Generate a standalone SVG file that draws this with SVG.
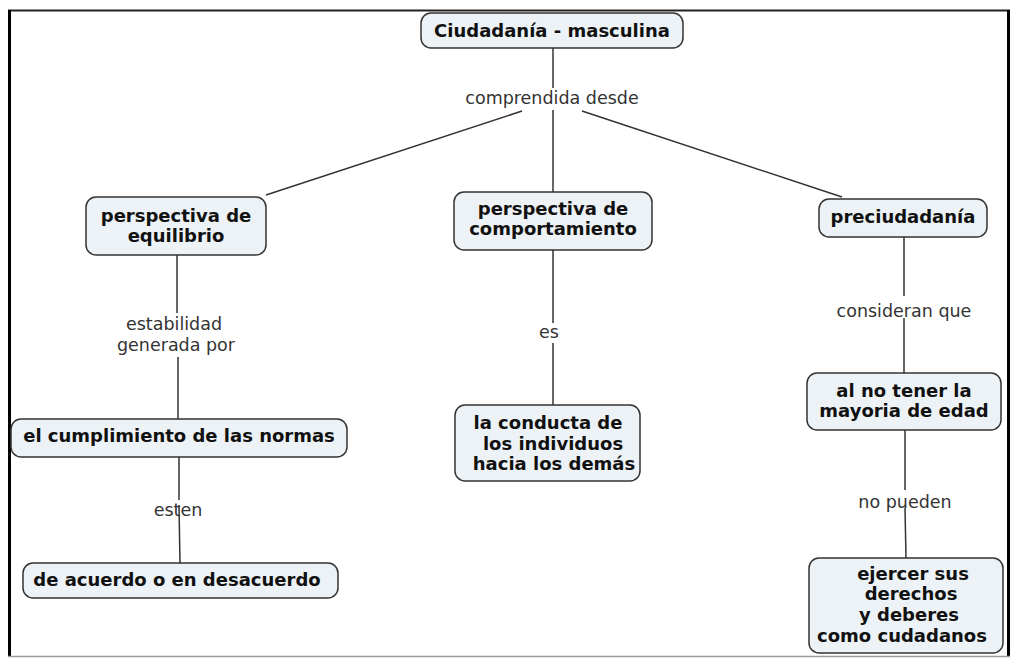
<svg xmlns="http://www.w3.org/2000/svg" width="1013" height="658" viewBox="0 0 1013 658">
<style>
.node{fill:#ecf2f5;stroke:#333;stroke-width:1.5}
.nt{font-family:"DejaVu Sans",Verdana,sans-serif;font-weight:bold;font-size:18px;fill:#111;text-anchor:middle}
.lt{font-family:"DejaVu Sans",Verdana,sans-serif;font-size:17.5px;fill:#333;text-anchor:middle}
.ln{stroke:#333;stroke-width:1.5;fill:none}
</style>
<rect x="0" y="0" width="1013" height="658" fill="#fff"/>
<g id="frame">
<line x1="8" y1="10.5" x2="1010" y2="10.5" stroke="#222" stroke-width="2"/>
<line x1="9.5" y1="10" x2="9.5" y2="657" stroke="#000" stroke-width="3"/>
<line x1="1008.5" y1="10" x2="1008.5" y2="657" stroke="#000" stroke-width="3"/>
<line x1="8" y1="656.5" x2="1010" y2="656.5" stroke="#999" stroke-width="1.5"/>
</g>
<g id="connectors">
<line class="ln" x1="553" y1="48" x2="553" y2="88"/>
<line class="ln" x1="553" y1="110" x2="553" y2="192"/>
<line class="ln" x1="522" y1="111" x2="266" y2="195"/>
<line class="ln" x1="582" y1="111" x2="842" y2="197"/>
<line class="ln" x1="177" y1="255" x2="177" y2="313"/>
<line class="ln" x1="178" y1="357" x2="178" y2="419"/>
<line class="ln" x1="553" y1="250" x2="553" y2="323"/>
<line class="ln" x1="553" y1="343" x2="553" y2="405"/>
<line class="ln" x1="904" y1="237" x2="904" y2="296"/>
<line class="ln" x1="904" y1="318" x2="904" y2="373"/>
<line class="ln" x1="179" y1="457" x2="179" y2="500"/>
<line class="ln" x1="179" y1="505" x2="180" y2="563"/>
<line class="ln" x1="905" y1="430" x2="905" y2="490"/>
<line class="ln" x1="905" y1="508" x2="906" y2="558"/>
<text class="lt" x="552" y="104">comprendida desde</text>
<text class="lt" x="174" y="330">estabilidad</text>
<text class="lt" x="176" y="351">generada por</text>
<text class="lt" x="549" y="338">es</text>
<text class="lt" x="904" y="317">consideran que</text>
<text class="lt" x="178" y="516">esten</text>
<text class="lt" x="905" y="508">no pueden</text>
</g>
<g id="n-root">
<rect class="node" x="421" y="13" width="262" height="35" rx="10"/>
<text class="nt" x="552" y="37">Ciudadanía - masculina</text>
</g>
<g id="n-equilibrio">
<rect class="node" x="86" y="197" width="180" height="58" rx="10"/>
<text class="nt" x="176" y="222">perspectiva de</text>
<text class="nt" x="176" y="242">equilibrio</text>
</g>
<g id="n-comportamiento">
<rect class="node" x="454" y="192" width="198" height="58" rx="10"/>
<text class="nt" x="553" y="215">perspectiva de</text>
<text class="nt" x="553" y="235">comportamiento</text>
</g>
<g id="n-preciudadania">
<rect class="node" x="819" y="199" width="168" height="38" rx="10"/>
<text class="nt" x="903" y="223">preciudadanía</text>
</g>
<g id="n-cumplimiento">
<rect class="node" x="11" y="419" width="336" height="38" rx="10"/>
<text class="nt" x="179" y="442">el cumplimiento de las normas</text>
</g>
<g id="n-acuerdo">
<rect class="node" x="23" y="563" width="315" height="35" rx="10"/>
<text class="nt" x="177" y="586">de acuerdo o en desacuerdo</text>
</g>
<g id="n-conducta">
<rect class="node" x="455" y="405" width="185" height="76" rx="10"/>
<text class="nt" x="548" y="429">la conducta de</text>
<text class="nt" x="553" y="450">los individuos</text>
<text class="nt" x="554" y="470">hacia los demás</text>
</g>
<g id="n-mayoria">
<rect class="node" x="807" y="373" width="194" height="57" rx="10"/>
<text class="nt" x="904" y="397">al no tener la</text>
<text class="nt" x="904" y="417">mayoria de edad</text>
</g>
<g id="n-ejercer">
<rect class="node" x="809" y="558" width="194" height="95" rx="10"/>
<text class="nt" x="913" y="580">ejercer sus</text>
<text class="nt" x="911" y="600">derechos</text>
<text class="nt" x="909" y="621">y deberes</text>
<text class="nt" x="902" y="642">como cudadanos</text>
</g>
</svg>
